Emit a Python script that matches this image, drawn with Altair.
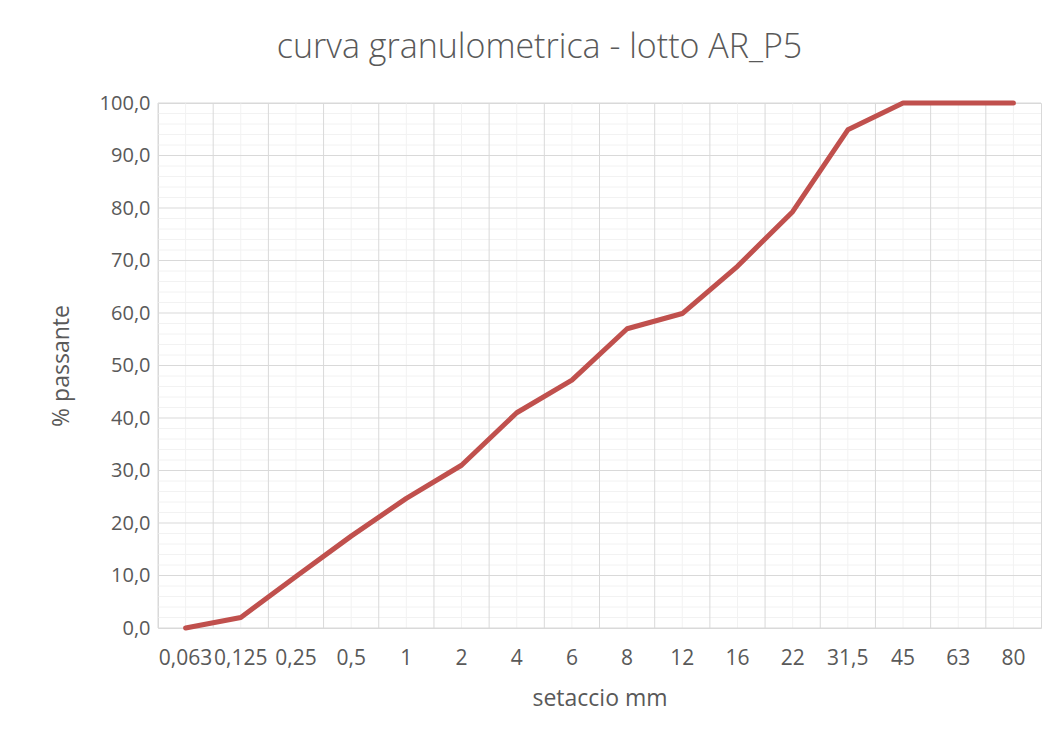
import altair as alt
import pandas as pd

sieves = ["0,063", "0,125", "0,25", "0,5", "1", "2", "4", "6", "8",
          "12", "16", "22", "31,5", "45", "63", "80"]
passing = [0.0, 2.0, 9.8, 17.5, 24.7, 31.0, 41.0, 47.2, 57.0,
           59.9, 68.9, 79.3, 94.9, 100.0, 100.0, 100.0]
y_major = list(range(0, 101, 10))
y_minor = [v for v in range(2, 100, 2) if v % 10]

FONT = "Open Sans"
TXT = "#595959"
MAJOR = "#D9D9D9"
MINOR = "#F2F2F2"

df = pd.DataFrame({"setaccio": sieves, "passante": passing})
df_cat = pd.DataFrame({"setaccio": sieves})
df_ymaj = pd.DataFrame({"passante": y_major})
df_ymin = pd.DataFrame({"passante": y_minor})

xs = alt.Scale(type="band", domain=sieves, paddingInner=0, paddingOuter=0)
ys = alt.Scale(domain=[0, 100], nice=False)

x_axis = alt.Axis(title="setaccio mm", labelAngle=0, labelOverlap=False,
                  domain=False, ticks=False, grid=False, labelFontSize=21,
                  labelPadding=19, titlePadding=19)
y_axis = alt.Axis(title="% passante", values=y_major,
                  labelExpr="replace(format(datum.value, '.1f'), '.', ',')",
                  domain=False, ticks=False, grid=False, labelFontSize=20,
                  labelPadding=8, titlePadding=26)

X_mid = alt.X("setaccio:N", scale=xs, axis=x_axis, bandPosition=0.5)
X_start = alt.X("setaccio:N", scale=xs, axis=x_axis, bandPosition=0)
Y = alt.Y("passante:Q", scale=ys, axis=y_axis)

minor_x = alt.Chart(df_cat).mark_rule(color=MINOR, strokeWidth=1).encode(x=X_mid)
minor_y = alt.Chart(df_ymin).mark_rule(color=MINOR, strokeWidth=1).encode(y=Y)
major_x = alt.Chart(df_cat).mark_rule(color=MAJOR, strokeWidth=1).encode(x=X_start)
major_y = alt.Chart(df_ymaj).mark_rule(color=MAJOR, strokeWidth=1).encode(y=Y)

line = alt.Chart(df).mark_line(color="#C0504D", strokeWidth=5,
                               strokeJoin="round", strokeCap="round").encode(
    x=X_mid, y=Y)

chart = alt.layer(minor_x, minor_y, major_x, major_y, line).properties(
    width=883, height=525,
    autosize=alt.AutoSizeParams(type="none"),
    padding={"left": 150, "top": 95, "right": 14, "bottom": 100},
    title=alt.TitleParams("curva granulometrica - lotto AR_P5", fontSize=34,
                          font=FONT, fontWeight=300, color=TXT,
                          anchor="middle", dx=-60, offset=28),
).configure_view(stroke=MAJOR, strokeWidth=1).configure_axis(
    labelFont=FONT, titleFont=FONT, titleFontSize=23,
    labelColor=TXT, titleColor=TXT, titleFontWeight="normal"
)

chart.save("out.html", embed_options={"renderer": "svg", "actions": False})
